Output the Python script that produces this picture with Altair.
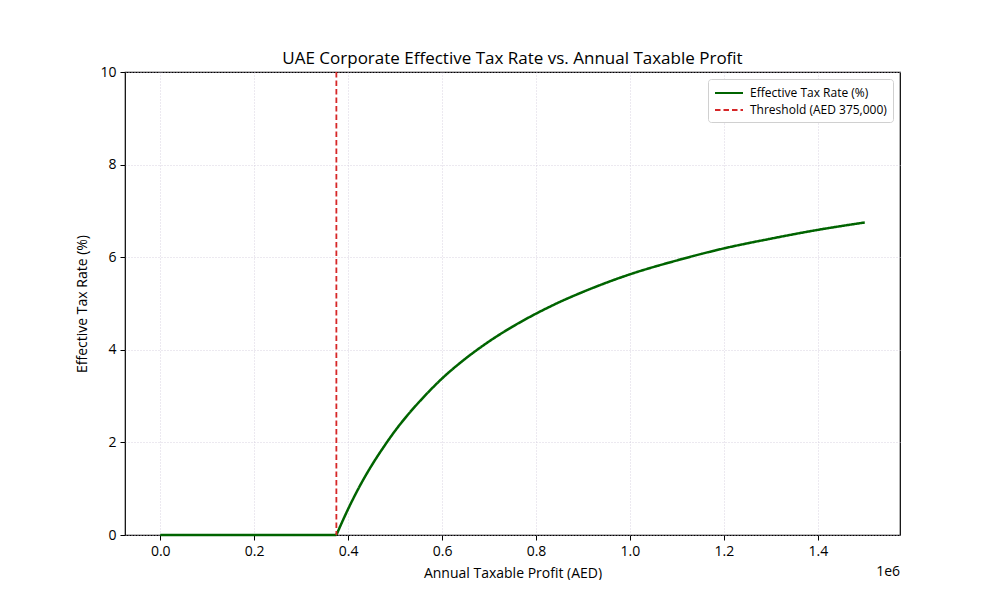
import altair as alt
import pandas as pd

# values (profit in AED, effective rate in %)
flat_profit = [0, 100000, 200000, 300000, 375000]
flat_rate = [0, 0, 0, 0, 0]
rise_profit = [375000, 400000, 425000, 450000, 475000, 500000, 525000, 550000,
               575000, 600000, 650000, 700000, 750000, 800000, 850000, 900000,
               950000, 1000000, 1100000, 1200000, 1300000, 1400000, 1500000]
rise_rate = [0, 0.56, 1.06, 1.50, 1.89, 2.25, 2.57, 2.86,
             3.13, 3.38, 3.81, 4.18, 4.50, 4.78, 5.03, 5.25,
             5.45, 5.63, 5.93, 6.19, 6.40, 6.59, 6.75]
threshold = [375000]

series_names = ["Effective Tax Rate (%)", "Threshold (AED 375,000)"]
series_colors = ["#006400", "#d62728"]
series_dashes = [[1, 0], [5.5, 3]]
x_ticks = [0, 200000, 400000, 600000, 800000, 1000000, 1200000, 1400000]

curve_df = pd.concat([
    pd.DataFrame({"profit": flat_profit, "rate": flat_rate, "part": "flat"}),
    pd.DataFrame({"profit": rise_profit, "rate": rise_rate, "part": "rise"}),
])
curve_df["series"] = series_names[0]
thr_df = pd.DataFrame({"profit": threshold, "series": series_names[1]})

FONT = "Open Sans"
W, H = 775, 463

x_scale = alt.Scale(domain=[-75000, 1575000], nice=False, zero=False)
color = alt.Color(
    "series:N",
    scale=alt.Scale(domain=series_names, range=series_colors),
    legend=alt.Legend(
        title=None, orient="top-right", offset=7,
        symbolType="M-1,0H3", symbolSize=196, symbolStrokeWidth=2,
        labelOffset=20, labelFontSize=12, labelFont=FONT,
        fillColor="white", strokeColor="#d0d0d0", cornerRadius=3,
        padding=6, rowPadding=3, labelLimit=300,
    ),
)
dash = alt.StrokeDash(
    "series:N",
    scale=alt.Scale(domain=series_names, range=series_dashes),
    legend=None,
)

x_axis = alt.Axis(
    values=x_ticks, labelExpr="format(datum.value / 1e6, '.1f')",
    title="Annual Taxable Profit (AED)", grid=True,
)
y_axis = alt.Axis(values=[0, 2, 4, 6, 8, 10], title="Effective Tax Rate (%)", grid=True)

curve = alt.Chart(curve_df).mark_line(strokeWidth=2.5, interpolate="monotone").encode(
    x=alt.X("profit:Q", scale=x_scale, axis=x_axis),
    y=alt.Y("rate:Q", scale=alt.Scale(domain=[0, 10], nice=False), axis=y_axis),
    color=color,
    strokeDash=dash,
    detail="part:N",
)

rule = alt.Chart(thr_df).mark_rule(strokeWidth=1.8).encode(
    x=alt.X("profit:Q", scale=x_scale),
    color=color,
    strokeDash=dash,
)

exp_label = alt.Chart(pd.DataFrame({"t": ["1e6"]})).mark_text(
    font=FONT, fontSize=14, align="right", baseline="top", color="black"
).encode(text="t:N", x=alt.value(W), y=alt.value(H + 30))

chart = (
    alt.layer(curve, rule, exp_label)
    .properties(
        width=W, height=H,
        autosize=alt.AutoSizeParams(type="none"),
        padding={"left": 117, "top": 64, "right": 60, "bottom": 45},
        title=alt.TitleParams(
            "UAE Corporate Effective Tax Rate vs. Annual Taxable Profit",
            font=FONT, fontSize=17, fontWeight="normal", color="black",
            anchor="middle", offset=-3,
        ),
        background="white",
    )
    .configure_view(stroke="black", strokeWidth=1.2)
    .configure_axis(
        labelFont=FONT, labelFontSize=14, labelColor="black",
        titleFont=FONT, titleFontSize=14, titleFontWeight="normal", titleColor="black",
        domain=False, tickColor="black", tickSize=5, labelPadding=4,
        gridColor="#cfc8d8", gridDash=[1, 2], gridWidth=0.8,
    )
    .configure_axisX(titlePadding=8)
    .configure_axisY(titlePadding=10)
)

chart.save("out.html", embed_options={"renderer": "svg", "actions": False})
